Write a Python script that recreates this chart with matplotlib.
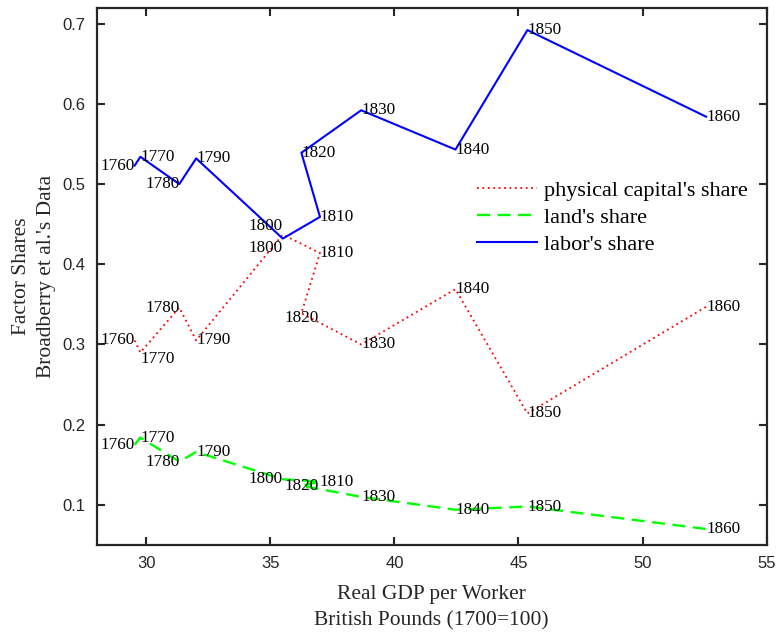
import matplotlib
matplotlib.use('Agg')
import matplotlib.pyplot as plt

# Data (Broadberry et al.)
years = [1760, 1770, 1780, 1790, 1800, 1810, 1820, 1830, 1840, 1850, 1860]
gdp_per_worker = [29.53, 29.76, 31.33, 32.01, 35.50, 37.00, 36.25, 38.66, 42.46, 45.36, 52.56]
capital_share = [0.305, 0.290, 0.346, 0.305, 0.437, 0.414, 0.339, 0.300, 0.369, 0.214, 0.347]
land_share = [0.175, 0.184, 0.154, 0.166, 0.132, 0.129, 0.124, 0.110, 0.094, 0.098, 0.070]
labor_share = [0.523, 0.534, 0.500, 0.532, 0.432, 0.459, 0.539, 0.592, 0.543, 0.692, 0.584]

serif = 'Liberation Serif'
sans = 'Liberation Sans'

fig = plt.figure(figsize=(7.79, 6.33), dpi=100)
ax = fig.add_axes([0.1241, 0.139, 0.860, 0.849])

# The three series
ax.plot(gdp_per_worker, capital_share, color='#ff0000', lw=1.3, linestyle=(0, (1, 2)),
        label="physical capital's share")
ax.plot(gdp_per_worker, land_share, color='#00ff00', lw=1.7, linestyle=(0, (5.5, 3.2)),
        label="land's share")
ax.plot(gdp_per_worker, labor_share, color='#0000ff', lw=1.5, linestyle='-',
        label="labor's share")

# Year labels next to every point: (ha, va, dx, dy in points); default is to the right
label_style = {
    'labor': {1760: ('right', 'center', 0, 0), 1780: ('right', 'center', 0, 0),
              1800: ('right', 'bottom', 0, 3)},
    'capital': {1760: ('right', 'center', 0, 0), 1770: ('left', 'center', 0, -4.5),
                1780: ('right', 'center', 0, 0), 1800: ('right', 'top', 0, -4),
                1820: ('center', 'center', 0, -3.5)},
    'land': {1760: ('right', 'center', 0, 0), 1780: ('right', 'center', 0, 0),
             1800: ('right', 'center', 0, 0), 1820: ('center', 'center', 0, 0)},
}
series = {'capital': capital_share, 'land': land_share, 'labor': labor_share}
for name, values in series.items():
    for yr, xv, yv in zip(years, gdp_per_worker, values):
        ha, va, dx, dy = label_style[name].get(yr, ('left', 'center', 0, 0))
        ax.annotate(str(yr), (xv, yv), xytext=(dx, dy), textcoords='offset points',
                    ha=ha, va=va, fontsize=12.3, family=serif, color='black')

# Axes limits and ticks
ax.set_xlim(28, 55)
ax.set_ylim(0.05, 0.72)
ax.set_xticks([30, 35, 40, 45, 50, 55])
ax.set_yticks([0.1, 0.2, 0.3, 0.4, 0.5, 0.6, 0.7])
ax.tick_params(direction='in', length=6, width=1.5, color='#262626',
               top=True, right=True, labelsize=12, pad=8)
for lab in ax.get_xticklabels() + ax.get_yticklabels():
    lab.set_family(sans)
    lab.set_color('#262626')
for sp in ax.spines.values():
    sp.set_linewidth(1.6)
    sp.set_color('#262626')

# Axis labels
ax.set_xlabel('Real GDP per Worker\nBritish Pounds (1700=100)', family=serif,
              fontsize=15.5, color='#262626', linespacing=1.5)
ax.xaxis.set_label_coords(0.5, -0.074)
ax.set_ylabel("Factor Shares\nBroadberry et al.'s Data", family=serif,
              fontsize=15.5, color='#262626', linespacing=1.45)
ax.yaxis.set_label_coords(-0.06, 0.5)

# Legend without box
ax.legend(loc='upper left', bbox_to_anchor=(0.567, 0.678), frameon=False,
          prop={'family': serif, 'size': 16}, handlelength=2.7, handletextpad=0.35,
          labelspacing=0.28, borderpad=0, borderaxespad=0)

fig.savefig('out.png', dpi=100)
